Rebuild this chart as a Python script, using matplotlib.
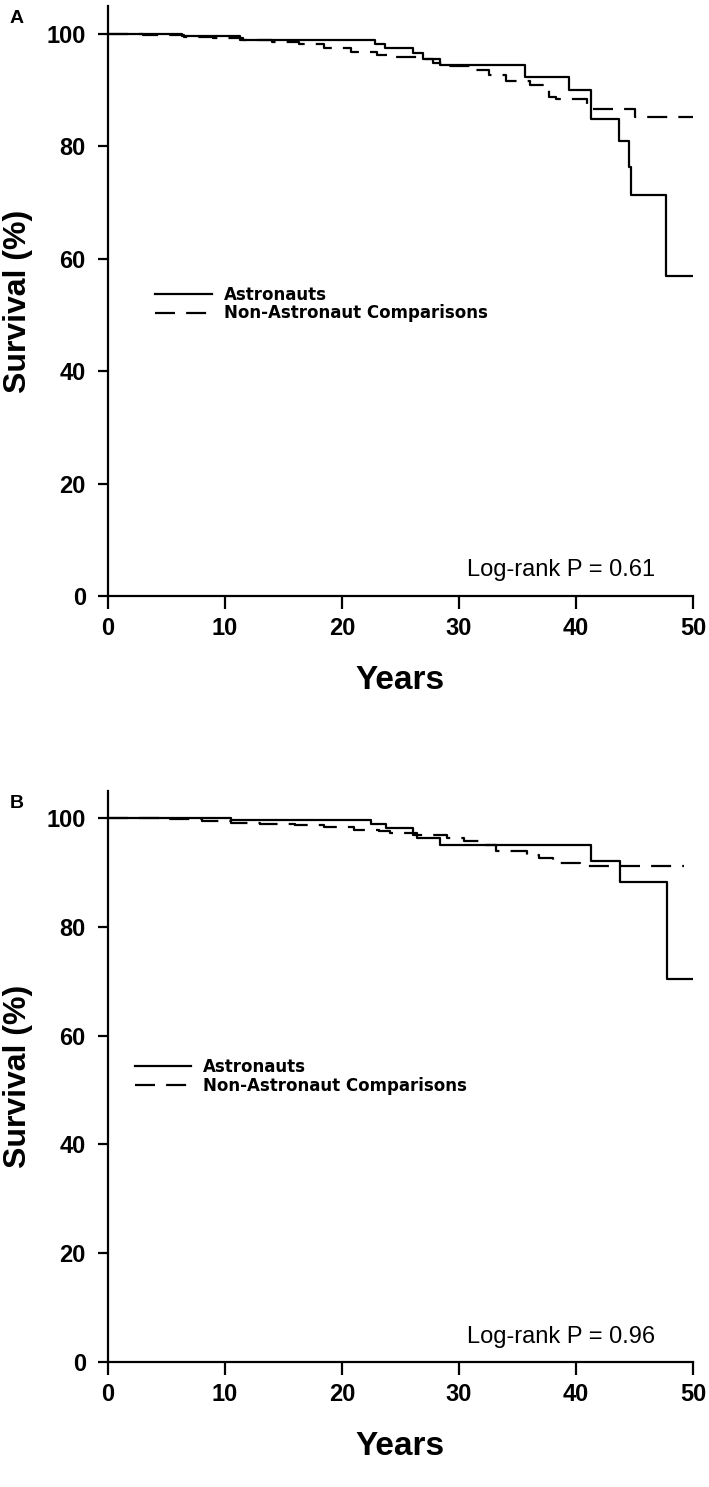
import matplotlib
matplotlib.use("Agg")
import matplotlib.pyplot as plt

# === Kaplan-Meier steps (years, survival %) ===
# Panel A
a_astro_t = [0, 6.3, 11.3, 22.8, 23.7, 26.1, 26.9, 28.4, 35.6, 39.4, 41.3, 43.7, 44.5, 44.7, 47.7, 50]
a_astro_s = [100, 99.6, 98.9, 98.3, 97.6, 96.6, 95.5, 94.5, 92.3, 90.0, 84.9, 81.0, 76.4, 71.4, 56.9, 56.9]
a_comp_t = [0, 3, 6.5, 9, 11.5, 14, 16.3, 18.5, 20.8, 23.0, 24.5, 26.5, 27.8, 29.0, 31.2, 32.6,
            34.0, 36.1, 37.7, 38.3, 40.9, 41.2, 45.0, 50]
a_comp_s = [100, 99.8, 99.5, 99.3, 98.9, 98.6, 98.2, 97.6, 96.9, 96.2, 95.9, 95.5, 94.8, 94.3, 93.6, 92.7,
            91.6, 90.9, 88.8, 88.4, 87.4, 86.6, 85.3, 85.3]

# Panel B
b_astro_t = [0, 10.5, 22.5, 23.8, 26.1, 26.4, 28.4, 41.3, 43.8, 47.8, 50]
b_astro_s = [100, 99.7, 99.0, 98.2, 97.2, 96.3, 95.1, 92.2, 88.2, 70.5, 70.5]
b_comp_t = [0, 5, 8, 10.5, 13, 16, 18.5, 21, 23.2, 24.1, 26.1, 29.0, 30.4, 31.8, 33.2, 35.8,
            36.8, 38.0, 40.3, 49.2]
b_comp_s = [100, 99.8, 99.5, 99.2, 99.0, 98.7, 98.3, 97.9, 97.6, 97.3, 96.9, 96.3, 95.8, 95.1, 94.0, 93.3,
            92.6, 91.8, 91.2, 91.2]

pvals = ["0.61", "0.96"]
panel_labels = ["A", "B"]
xticks = [0, 10, 20, 30, 40, 50]
yticks = [0, 20, 40, 60, 80, 100]

NARROW = ['Liberation Sans Narrow', 'Liberation Sans', 'DejaVu Sans']
ARIAL = ['Liberation Sans', 'DejaVu Sans']

fig = plt.figure(figsize=(7.09, 14.87), dpi=100)

# axes rectangles in figure fraction
rects = [
    [108 / 709, (1487 - 596) / 1487, 585 / 709, 590 / 1487],
    [108 / 709, (1487 - 1362) / 1487, 585 / 709, 571 / 1487],
]
legend_anchor = [(0.055, 0.495), (0.02, 0.5)]

panels = [
    (a_astro_t, a_astro_s, a_comp_t, a_comp_s),
    (b_astro_t, b_astro_s, b_comp_t, b_comp_s),
]

for i, (at, as_, ct, cs) in enumerate(panels):
    ax = fig.add_axes(rects[i])
    ax.step(at, as_, where='post', color='black', lw=1.6, label='Astronauts')
    ax.step(ct, cs, where='post', color='black', lw=1.6, dashes=(9, 5),
            label='Non-Astronaut Comparisons')

    ax.set_xlim(0, 50)
    ax.set_ylim(0, 105)
    ax.set_xticks(xticks)
    ax.set_yticks(yticks)
    for side in ['top', 'right']:
        ax.spines[side].set_visible(False)
    for side in ['left', 'bottom']:
        ax.spines[side].set_linewidth(1.6)
    ax.tick_params(axis='x', direction='out', length=9, width=1.6, pad=6)
    ax.tick_params(axis='y', direction='out', length=7, width=1.6, pad=9)
    for lab in ax.get_xticklabels() + ax.get_yticklabels():
        lab.set_fontfamily(NARROW)
        lab.set_fontweight('bold')
        lab.set_fontsize(17)

    ax.set_xlabel("Years", fontfamily=NARROW, fontweight='bold', fontsize=24, labelpad=18)
    ax.set_ylabel("Survival (%)", fontfamily=NARROW, fontweight='bold', fontsize=23)
    ax.yaxis.set_label_coords(-0.128, 0.5)

    ax.legend(loc='center left', bbox_to_anchor=legend_anchor[i], frameon=False,
              handlelength=3.4, handletextpad=0.7, labelspacing=0.05,
              prop={'family': 'DejaVu Sans', 'weight': 'bold', 'size': 12})

    ax.text(0.935, 0.025, "Log-rank P = " + pvals[i], transform=ax.transAxes,
            ha='right', va='bottom', fontfamily=ARIAL, fontsize=17)

    fig.text(10 / 709, rects[i][1] + rects[i][3] - 0.003, panel_labels[i],
             fontfamily=ARIAL, fontweight='bold', fontsize=14, va='top', ha='left')

fig.savefig("out.png", dpi=100)
